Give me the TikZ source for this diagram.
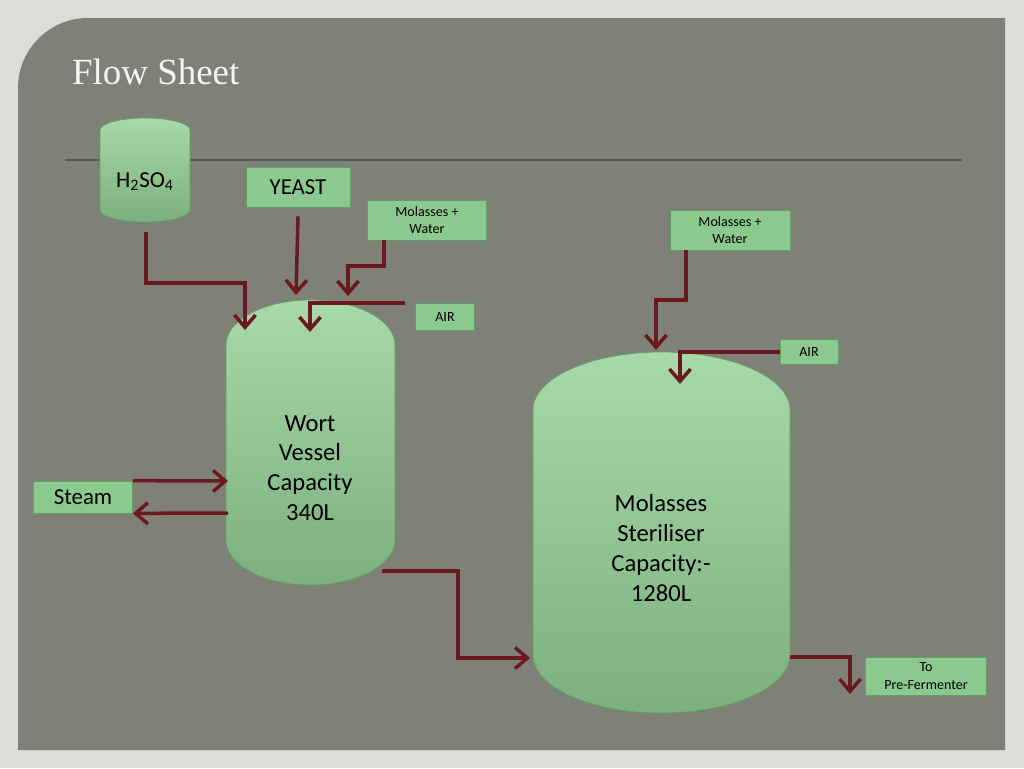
\documentclass[tikz,border=0pt]{standalone}
\usepackage{fontspec}
\setmainfont{Carlito}
\newfontfamily\titlefont{Liberation Serif}
\usetikzlibrary{arrows.meta}
\definecolor{panelgray}{HTML}{7F8178}
\definecolor{pagegray}{HTML}{DCDCD8}
\definecolor{pipered}{HTML}{6A1A1E}
\definecolor{boxgreen}{HTML}{8CC98E}
\definecolor{vesselgreen}{HTML}{92CF94}
\definecolor{rulegreen}{HTML}{4F5E4C}
\tikzset{
  tag/.style={rectangle, draw=green!25!gray, fill=boxgreen, inner sep=0mm, align=center},
  vessel/.style={draw=green!30!gray, top color=vesselgreen!80!white, bottom color=vesselgreen!85!black},
  label/.style={align=center, font=\fontsize{14}{17}\selectfont},
  pipe/.style={draw=pipered, line width=2pt, -{Straight Barb[length=7pt,width=12pt]}}
}
\begin{document}
\begin{tikzpicture}[x=0.02cm,y=-0.02cm]
\useasboundingbox (0,0) rectangle (1024,768);
\fill[pagegray] (0,0) rectangle (1024,768);
\fill[panelgray] (18,750) -- (18,90) [rounded corners=1.4cm] -- (18,18) [sharp corners] -- (1005,18) -- (1005,750) -- cycle;
\node[anchor=west, text=white!92!gray, font=\titlefont\fontsize{21}{24}\selectfont] (title) at (66,72) {Flow Sheet};
\draw[rulegreen, line width=0.8pt] (65,160) -- (962,160);

% feeds
\path[vessel] (100,130) arc[start angle=180, end angle=360, x radius=45, y radius=12] -- (190,210) arc[start angle=0, end angle=180, x radius=45, y radius=12] -- cycle;
\node[font=\fontsize{13}{15}\selectfont] (acid) at (145,182) {H\textsubscript{2}SO\textsubscript{4}};
\node[tag, minimum width=104*0.02cm, minimum height=40*0.02cm, font=\fontsize{13}{15}\selectfont] (yeast) at (298,187) {YEAST};
\node[tag, minimum width=119*0.02cm, minimum height=40*0.02cm, font=\fontsize{8}{10}\selectfont] (molA) at (427,220) {Molasses +\\Water};
\node[tag, minimum width=59*0.02cm, minimum height=27*0.02cm, font=\fontsize{8}{10}\selectfont] (airA) at (445,317) {AIR};
\node[tag, minimum width=99*0.02cm, minimum height=32*0.02cm, font=\fontsize{13}{15}\selectfont] (steam) at (83,497) {Steam};
\node[tag, minimum width=120*0.02cm, minimum height=40*0.02cm, font=\fontsize{8}{10}\selectfont] (molB) at (730,230) {Molasses +\\Water};
\node[tag, minimum width=58*0.02cm, minimum height=25*0.02cm, font=\fontsize{8}{10}\selectfont] (airB) at (809,352) {AIR};
\node[tag, minimum width=121*0.02cm, minimum height=38*0.02cm, font=\fontsize{8}{10}\selectfont] (outlet) at (926,676) {To\\Pre-Fermenter};

% vessels
\path[vessel] (226,345) arc[start angle=180, end angle=360, x radius=84.5, y radius=45] -- (395,540) arc[start angle=0, end angle=180, x radius=84.5, y radius=45] -- cycle;
\node[label] (wort) at (310,468) {Wort\\Vessel\\Capacity\\340L};
\path[vessel] (533,410) arc[start angle=180, end angle=360, x radius=128.5, y radius=58] -- (790,655) arc[start angle=0, end angle=180, x radius=128.5, y radius=58] -- cycle;
\node[label] (steril) at (661,548) {Molasses\\Steriliser\\Capacity:-\\1280L};

% pipes
\draw[pipe] (146,232) coordinate (a1) |- (245,283) -- (245,330) coordinate (a2);
\draw[pipe] ([yshift=-9*0.02cm]yeast.south) coordinate (y1) -- (296,295) coordinate (y2);
\draw[pipe] ([xshift=-43*0.02cm]molA.south) coordinate (m1) |- (348,266) -- (348,296) coordinate (m2);
\draw[pipe] ([xshift=-10*0.02cm]airA.north west) coordinate (r1) -| (310,332) coordinate (r2);
\draw[pipe] (steam.north east) -- (228,481) coordinate (s1);
\draw[pipe] (228,513) coordinate (s2) -- (steam.south east);
\draw[pipe] (382,571) coordinate (w1) -| (458,658) -- (530,658) coordinate (w2);
\draw[pipe] ([xshift=-44*0.02cm]molB.south) coordinate (n1) |- (656,300) -- (656,350) coordinate (n2);
\draw[pipe] (airB.west) -| (680,384) coordinate (b2);
\draw[pipe] (790,657) coordinate (o1) -| (850,694) coordinate (o2);
\end{tikzpicture}
\end{document}
